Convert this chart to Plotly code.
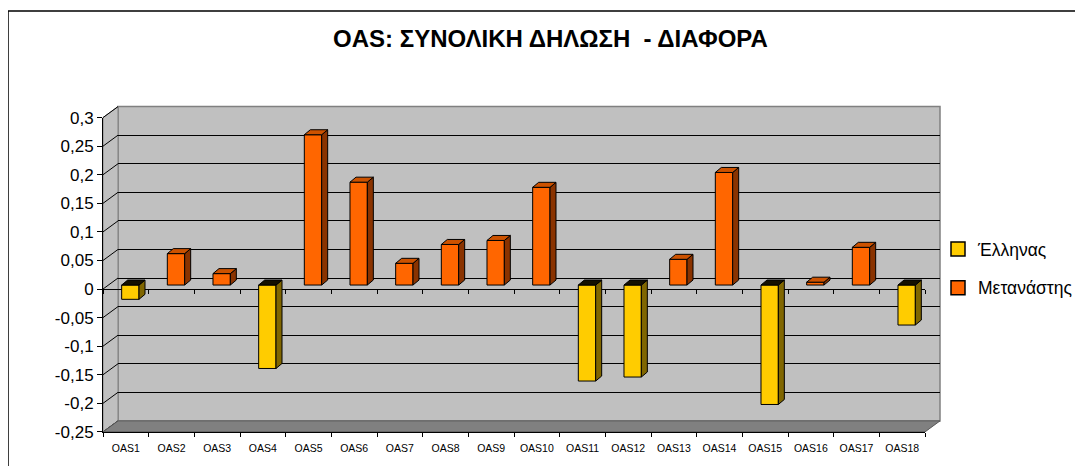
import plotly.graph_objects as go

# ---------------- data ----------------
categories = ["OAS%d" % i for i in range(1, 19)]
greek = [-0.025, None, None, -0.146, None, None, None, None, None, None,
         -0.168, -0.161, None, None, -0.209, None, None, -0.07]
immigrant = [None, 0.055, 0.02, None, 0.263, 0.18, 0.038, 0.071, 0.078, 0.171,
             None, None, 0.045, 0.197, None, 0.005, 0.066, None]
series_names = ["Έλληνας", "Μετανάστης"]
y_tickvals = [-0.25, -0.2, -0.15, -0.1, -0.05, 0, 0.05, 0.1, 0.15, 0.2, 0.25, 0.3]
y_ticktext = ["-0,25", "-0,2", "-0,15", "-0,1", "-0,05", "0", "0,05", "0,1",
              "0,15", "0,2", "0,25", "0,3"]
title_text = "OAS: ΣΥΝΟΛΙΚΗ ΔΗΛΩΣΗ \u00a0- ΔΙΑΦΟΡΑ"

# ---------------- geometry (screen pixels) ----------------
W, H = 1083, 466
OFF = 8                      # page offset of the figure div
FX0, FX1 = 103, 925          # front plane x extent
FYT, FYB = 117.6, 431.9      # front plane y for 0.3 / -0.25
DX, DY = 15, -11             # depth offset of back wall
BDX, BDY = 4.5, -4           # offset of bars' front face
YMIN, YMAX = -0.25, 0.3
NCAT = len(categories)
BAR_W = 0.38


def px(x):
    return (x - OFF) / W


def py(y):
    return (H - (y - OFF)) / H


def yfront(v):
    return FYB - (v - YMIN) / (YMAX - YMIN) * (FYB - FYT)


cat_px = (FX1 - FX0) / NCAT
val_px = (FYB - FYT) / (YMAX - YMIN)
depth_x = 6 / cat_px
depth_y = 5 / val_px

colors = {
    "greek": ("#FFCC00", "#806600", "#141000"),
    "immigrant": ("#FF6600", "#8A3300", "#CC5200"),
}

fig = go.Figure()

# back wall subplot (gridlines)
fig.add_trace(go.Scatter(x=[0], y=[0], xaxis="x2", yaxis="y2", mode="markers",
                         marker=dict(opacity=0), showlegend=False, hoverinfo="skip"))
# front axes subplot
fig.add_trace(go.Scatter(x=categories, y=[0] * NCAT, xaxis="x", yaxis="y", mode="markers",
                         marker=dict(opacity=0), showlegend=False, hoverinfo="skip"))
fig.add_trace(go.Scatter(x=categories, y=[0] * NCAT, xaxis="x5", yaxis="y", mode="markers",
                         marker=dict(opacity=0), showlegend=False, hoverinfo="skip"))

idx = list(range(NCAT))
for key, vals, name in (("greek", greek, series_names[0]),
                        ("immigrant", immigrant, series_names[1])):
    front, side, top = colors[key]
    fig.add_trace(go.Bar(x=idx, y=vals, width=BAR_W, xaxis="x3", yaxis="y3",
                         marker=dict(color=front, line=dict(color="black", width=1)),
                         name=name, showlegend=False))
    sx, sy, tx, ty = [], [], [], []
    for i, v in enumerate(vals):
        if v is None:
            continue
        hi = max(v, 0)
        lo = min(v, 0)
        xl = i - BAR_W / 2
        xr = i + BAR_W / 2
        sx += [xr, xr, xr + depth_x, xr + depth_x, xr, None]
        sy += [lo, hi, hi + depth_y, lo + depth_y, lo, None]
        tx += [xl, xr, xr + depth_x, xl + depth_x, xl, None]
        ty += [hi, hi, hi + depth_y, hi + depth_y, hi, None]
    fig.add_trace(go.Scatter(x=sx, y=sy, xaxis="x3", yaxis="y3", mode="lines",
                             fill="toself", fillcolor=side,
                             line=dict(color="black", width=1),
                             showlegend=False, hoverinfo="skip"))
    fig.add_trace(go.Scatter(x=tx, y=ty, xaxis="x3", yaxis="y3", mode="lines",
                             fill="toself", fillcolor=top,
                             line=dict(color="black", width=1),
                             showlegend=False, hoverinfo="skip"))

# legend entries
for key, name, grp in (("greek", series_names[0], "a"), ("immigrant", series_names[1], "b")):
    fig.add_trace(go.Scatter(x=[None], y=[None], xaxis="x3", yaxis="y3", mode="markers",
                             marker=dict(symbol="square", size=14, color=colors[key][0],
                                         line=dict(color="black", width=1.5)),
                             name=name, legendgroup=grp, showlegend=True))

# ---------------- decorative 3D frame ----------------
shapes = []
shapes.append(dict(type="rect", xref="paper", yref="paper", x0=px(8), x1=px(1100),
                   y0=py(490), y1=py(11), line=dict(color="black", width=1.5),
                   fillcolor="white", layer="below"))
shapes.append(dict(type="rect", xref="paper", yref="paper",
                   x0=px(FX0 + DX), x1=px(FX1 + DX), y0=py(FYB + DY), y1=py(FYT + DY),
                   fillcolor="#C0C0C0", line=dict(color="#808080", width=1.5), layer="below"))
path = "M %f,%f L %f,%f L %f,%f L %f,%f Z" % (
    px(FX0), py(FYT), px(FX0 + DX), py(FYT + DY),
    px(FX0 + DX), py(FYB + DY), px(FX0), py(FYB))
shapes.append(dict(type="path", xref="paper", yref="paper", path=path,
                   fillcolor="#C0C0C0", line=dict(color="#808080", width=1), layer="below"))
for v in y_tickvals:
    shapes.append(dict(type="line", xref="paper", yref="paper",
                       x0=px(FX0), y0=py(yfront(v)), x1=px(FX0 + DX), y1=py(yfront(v) + DY),
                       line=dict(color="black", width=1), layer="below"))
path = "M %f,%f L %f,%f L %f,%f L %f,%f Z" % (
    px(FX0), py(FYB), px(FX1), py(FYB),
    px(FX1 + DX), py(FYB + DY), px(FX0 + DX), py(FYB + DY))
shapes.append(dict(type="path", xref="paper", yref="paper", path=path,
                   fillcolor="#808080", line=dict(color="#5A5A5A", width=1), layer="below"))

font_family = "Liberation Sans, Arial, sans-serif"

fig.update_layout(
    width=W, height=H,
    margin=dict(l=0, r=0, t=0, b=0, autoexpand=False),
    paper_bgcolor="white",
    plot_bgcolor="rgba(0,0,0,0)",
    font=dict(family=font_family, color="black"),
    shapes=shapes,
    barmode="overlay",
    title=dict(text="<b>%s</b>" % title_text, x=px(550.5), y=py(39),
               xanchor="center", yanchor="middle", xref="paper", yref="paper",
               font=dict(size=24, family=font_family, color="black")),
    legend=dict(x=px(938), y=py(231), xanchor="left", yanchor="top",
                font=dict(size=17.5, family=font_family), traceorder="grouped",
                tracegroupgap=13, bgcolor="rgba(0,0,0,0)", borderwidth=0),
    xaxis=dict(domain=[px(FX0), px(FX1)], type="category", categoryorder="array",
               categoryarray=categories, range=[-0.5, NCAT - 0.5], tickson="boundaries",
               ticks="outside", ticklen=4, tickcolor="black", showline=True,
               linecolor="black", linewidth=1, showgrid=False, zeroline=False,
               tickfont=dict(size=10.5), ticklabelstandoff=6, anchor="y",
               fixedrange=True, automargin=False),
    yaxis=dict(domain=[py(FYB), py(FYT)], range=[YMIN, YMAX], tickvals=y_tickvals,
               ticktext=y_ticktext, ticks="outside", ticklen=5, tickcolor="black",
               showline=True, linecolor="black", linewidth=1, showgrid=False,
               zeroline=False, tickfont=dict(size=17), anchor="x", fixedrange=True,
               automargin=False),
    xaxis5=dict(overlaying="x", anchor="free", position=py(yfront(0)), type="category",
                categoryorder="array", categoryarray=categories, range=[-0.5, NCAT - 0.5],
                tickson="boundaries", ticks="outside", ticklen=4, tickcolor="black",
                showline=True, linecolor="black", linewidth=1, showticklabels=False,
                showgrid=False, zeroline=False, fixedrange=True, automargin=False),
    xaxis2=dict(domain=[px(FX0 + DX), px(FX1 + DX)], range=[-0.5, NCAT - 0.5],
                visible=False, anchor="y2", fixedrange=True),
    yaxis2=dict(domain=[py(FYB + DY), py(FYT + DY)], range=[YMIN, YMAX],
                tickvals=y_tickvals, showgrid=True, gridcolor="black", gridwidth=1,
                showticklabels=False, ticks="", zeroline=False, showline=False,
                anchor="x2", fixedrange=True, automargin=False),
    xaxis3=dict(domain=[px(FX0 + BDX), px(FX1 + BDX)], range=[-0.5, NCAT - 0.5],
                visible=False, anchor="y3", fixedrange=True),
    yaxis3=dict(domain=[py(FYB + BDY), py(FYT + BDY)], range=[YMIN, YMAX],
                visible=False, anchor="x3", fixedrange=True),
)

fig.write_html("out.html")
